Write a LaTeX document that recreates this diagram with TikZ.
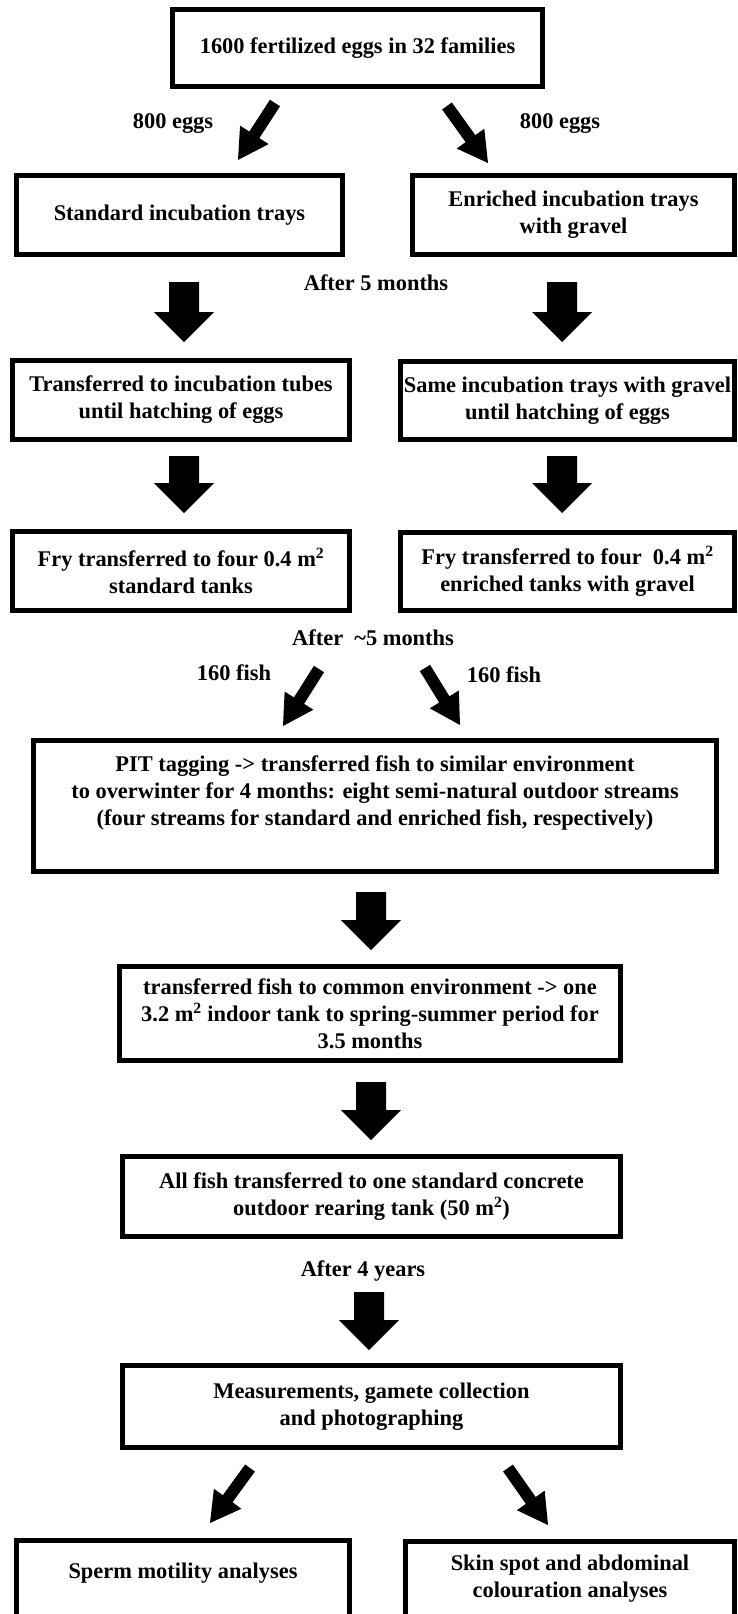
\documentclass[tikz,border=0pt]{standalone}
\usepackage{fontspec}
\setmainfont{Liberation Serif}
\usetikzlibrary{calc}
\newcommand\txtfont{\fontsize{22.4}{27}\selectfont\bfseries}
% #1 tail, #2 tip, #3 shaft half width, #4 head half width, #5 head length
\newcommand\blockarrow[5]{%
  \coordinate (#1-#2-hb) at ($(#2)!#5!(#1)$);
  \fill ($(#1)!#3!90:(#2)$) -- ($(#1-#2-hb)!#3!90:(#2)$) -- ($(#1-#2-hb)!#4!90:(#2)$)
     -- (#2) -- ($(#1-#2-hb)!#4!-90:(#2)$) -- ($(#1-#2-hb)!#3!-90:(#2)$)
     -- ($(#1)!#3!-90:(#2)$) -- cycle;}
\begin{document}
\begin{tikzpicture}[x=1pt,y=-1pt,
  box/.style={draw, line width=5pt, inner sep=0pt, align=center, font=\txtfont},
  lbl/.style={inner sep=0pt, align=center, font=\txtfont}]
\useasboundingbox (0,0) rectangle (737,1614);
\fill[white] (0,0) rectangle (737,1614);
\clip (0,0) rectangle (737,1614);

% boxes
\node[box, minimum width=370pt, minimum height=77pt] (top) at (357.5,48) {1600 fertilized eggs in 32 families};
\node[box, minimum width=326pt, minimum height=79pt] (std) at (179.5,215) {Standard incubation trays};
\node[box, minimum width=322pt, minimum height=79pt] (enr) at (573.5,215) {Enriched incubation trays\\with gravel};
\node[box, minimum width=337pt, minimum height=79pt] (tubes) at (181,400) {Transferred to incubation tubes\\until hatching of eggs};
\node[box, minimum width=334pt, minimum height=78pt] (same) at (567.5,400.5) {Same incubation trays with gravel\\until hatching of eggs};
\node[box, minimum width=337pt, minimum height=79pt] (fryL) at (181,571) {Fry transferred to four 0.4 m\textsuperscript{2}\\standard tanks};
\node[box, minimum width=334pt, minimum height=78pt] (fryR) at (567.5,571.5) {Fry transferred to four\ \ 0.4 m\textsuperscript{2}\\enriched tanks with gravel};
\node[box, minimum width=683pt, minimum height=131pt] (pit) at (375,806) {PIT tagging -> transferred fish to similar environment\\to overwinter for 4 months: eight semi-natural outdoor streams\\(four streams for standard and enriched fish, respectively)\\[3pt]\mbox{}};
\node[box, minimum width=501pt, minimum height=94pt] (common) at (370,1013.5) {transferred fish to common environment -> one\\3.2 m\textsuperscript{2} indoor tank to spring-summer period for\\3.5 months};
\node[box, minimum width=498pt, minimum height=80pt] (allfish) at (371.5,1196.5) {All fish transferred to one standard concrete\\outdoor rearing tank (50 m\textsuperscript{2})};
\node[box, minimum width=498pt, minimum height=82pt] (meas) at (371.5,1406.5) {Measurements, gamete collection\\and photographing};
\node[box, minimum width=333pt, minimum height=90pt] (sperm) at (183,1585.5) {Sperm motility analyses\\[2pt]\mbox{}};
\node[box, minimum width=329pt, minimum height=98pt] (skin) at (570,1590.5) {Skin spot and abdominal\\colouration analyses\\[2pt]\mbox{}};

% labels
\node[lbl] (eggsL) at (173,124) {800 eggs};
\node[lbl] (eggsR) at (560,124) {800 eggs};
\node[lbl] (after5) at (376,283) {After 5 months};
\node[lbl] (after5b) at (373,638) {After\ \ \char`\~5 months};
\node[lbl] (fishL) at (234,673) {160 fish};
\node[lbl] (fishR) at (504,675) {160 fish};
\node[lbl] (after4) at (363,1271) {After 4 years};

% arrow end points
\coordinate (d1t) at (275,103); \coordinate (d1h) at (238,160);
\coordinate (d2t) at (447,106); \coordinate (d2h) at (488,163);
\coordinate (v1t) at (184,282); \coordinate (v1h) at (184,342);
\coordinate (v2t) at (562,282); \coordinate (v2h) at (562,342);
\coordinate (v3t) at (184,456); \coordinate (v3h) at (184,513);
\coordinate (v4t) at (562,456); \coordinate (v4h) at (562,513);
\coordinate (d3t) at (319,669); \coordinate (d3h) at (283,726);
\coordinate (d4t) at (425,668); \coordinate (d4h) at (460,725);
\coordinate (v5t) at (371,892); \coordinate (v5h) at (371,950);
\coordinate (v6t) at (371,1082); \coordinate (v6h) at (371,1140);
\coordinate (v7t) at (369,1292); \coordinate (v7h) at (369,1350);
\coordinate (d5t) at (250,1468); \coordinate (d5h) at (210,1523);
\coordinate (d6t) at (508,1468); \coordinate (d6h) at (548,1525);

% diagonal arrows
\blockarrow{d1t}{d1h}{6pt}{17pt}{30pt}
\blockarrow{d2t}{d2h}{6pt}{17pt}{30pt}
\blockarrow{d3t}{d3h}{6pt}{17pt}{30pt}
\blockarrow{d4t}{d4h}{6pt}{17pt}{30pt}
\blockarrow{d5t}{d5h}{6pt}{17pt}{30pt}
\blockarrow{d6t}{d6h}{6pt}{17pt}{30pt}
% vertical block arrows
\blockarrow{v1t}{v1h}{15pt}{30pt}{30pt}
\blockarrow{v2t}{v2h}{15pt}{30pt}{30pt}
\blockarrow{v3t}{v3h}{15pt}{30pt}{30pt}
\blockarrow{v4t}{v4h}{15pt}{30pt}{30pt}
\blockarrow{v5t}{v5h}{15pt}{30pt}{30pt}
\blockarrow{v6t}{v6h}{15pt}{30pt}{30pt}
\blockarrow{v7t}{v7h}{15pt}{30pt}{30pt}
\end{tikzpicture}
\end{document}
